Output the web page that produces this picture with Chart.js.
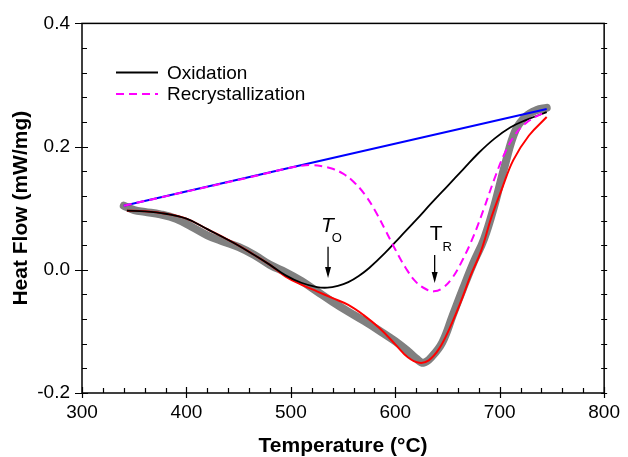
<!DOCTYPE html>
<html><head><meta charset="utf-8">
<script src="https://cdn.jsdelivr.net/npm/chart.js@4.4.1/dist/chart.umd.min.js"></script>
<style>html,body{margin:0;padding:0;background:#fff;}#wrap{width:628px;height:457px;}</style>
</head><body><div id="wrap"><canvas id="c" width="628" height="457"></canvas></div>
<script>
// ---- data ----
const baselineX = [340, 745];
const baselineY = [0.104, 0.261];

const oxidationX = [343, 360, 380, 400, 420, 445, 465, 480, 495, 510, 525, 535, 545, 555, 565, 575, 590, 605, 620, 635, 650, 665, 680, 695, 710, 725, 745];
const oxidationY = [0.096, 0.095, 0.091, 0.083, 0.066, 0.044, 0.024, 0.008, -0.009, -0.021, -0.028, -0.029, -0.026, -0.020, -0.010, 0.003, 0.027, 0.054, 0.081, 0.109, 0.136, 0.163, 0.190, 0.213, 0.231, 0.243, 0.256];

const recrystX = [340, 400, 460, 500, 510, 520, 530, 540, 550, 560, 570, 580, 590, 600, 610, 620, 630, 637, 645, 655, 665, 675, 685, 695, 705, 715, 725, 735, 745];
const recrystY = [0.104, 0.127, 0.150, 0.166, 0.169, 0.170, 0.168, 0.164, 0.156, 0.143, 0.124, 0.098, 0.066, 0.033, 0.003, -0.020, -0.032, -0.035, -0.030, -0.012, 0.018, 0.055, 0.100, 0.148, 0.190, 0.220, 0.238, 0.249, 0.257];

const fitX = [343, 360, 380, 400, 420, 445, 465, 480, 495, 510, 525, 540, 555, 570, 585, 600, 612, 623, 632, 642, 652, 662, 672, 682, 692, 702, 713, 728, 745];
const fitY = [0.096, 0.095, 0.091, 0.083, 0.066, 0.044, 0.024, 0.008, -0.011, -0.024, -0.035, -0.046, -0.057, -0.074, -0.095, -0.121, -0.142, -0.151, -0.147, -0.128, -0.095, -0.055, -0.010, 0.030, 0.085, 0.131, 0.178, 0.218, 0.248];

const measuredX = [340, 350, 360, 375, 390, 405, 420, 435, 450, 465, 480, 495, 510, 525, 540, 555, 570, 585, 600, 612, 620, 627, 635, 645, 655, 665, 675, 685, 695, 705, 715, 725, 735, 745];
const measuredY = [0.104, 0.097, 0.094, 0.090, 0.083, 0.070, 0.056, 0.046, 0.037, 0.024, 0.008, -0.004, -0.018, -0.035, -0.052, -0.068, -0.083, -0.099, -0.116, -0.132, -0.144, -0.151, -0.141, -0.118, -0.074, -0.030, 0.012, 0.050, 0.105, 0.170, 0.226, 0.249, 0.259, 0.263];

const xTickValues = [300, 400, 500, 600, 700, 800];
const yTickValues = [-0.2, 0.0, 0.2, 0.4];
const legendLabels = ['Oxidation', 'Recrystallization'];

// annotation markers (data coords)
const markerNames = [['T', 'O'], ['T', 'R']];
const markerX = [535.6, 637.7];
const markerTopY = [0.0375, 0.024];
const markerTipY = [-0.0135, -0.0216];

function pts(xs, ys) { return xs.map((v, i) => ({x: v, y: ys[i]})); }

const FONT = '"Liberation Sans", Arial, sans-serif';

const decor = {
  id: 'decor',
  afterDraw(chart) {
    const {ctx, chartArea: a, scales: {x, y}} = chart;
    ctx.save();
    ctx.strokeStyle = '#000';
    ctx.lineWidth = 1.5;
    ctx.strokeRect(a.left, a.top, a.right - a.left, a.bottom - a.top);
    ctx.lineWidth = 1.2;
    ctx.beginPath();
    for (let k = 0; k <= 25; k++) {
      const v = 300 + k * 20, px = Math.round(x.getPixelForValue(v)) + 0.5;
      const major = k % 5 === 0;
      ctx.moveTo(px, a.bottom + (major ? 5 : 0));
      ctx.lineTo(px, a.bottom - (major ? 6 : 5));
    }
    for (let k = -5; k <= 10; k++) {
      const v = k * 0.04, py = Math.round(y.getPixelForValue(v)) + 0.5;
      const major = k % 5 === 0;
      ctx.moveTo(a.left - (major ? 7 : 0), py);
      ctx.lineTo(a.left + (major ? 6 : 5), py);
      ctx.moveTo(a.right - 3, py);
      ctx.lineTo(a.right + 3, py);
    }
    ctx.stroke();

    const lx0 = 116, lx1 = 158, tx = 167, rows = [72.5, 94];
    ctx.font = '19px ' + FONT;
    ctx.textBaseline = 'middle';
    ctx.fillStyle = '#000';
    const styles = [{c: '#000000', d: []}, {c: '#ff00ff', d: [8, 5]}];
    legendLabels.forEach((t, i) => {
      ctx.beginPath();
      ctx.setLineDash(styles[i].d);
      ctx.strokeStyle = styles[i].c;
      ctx.lineWidth = 2;
      ctx.moveTo(lx0, rows[i]); ctx.lineTo(lx1, rows[i]);
      ctx.stroke();
      ctx.setLineDash([]);
      ctx.fillText(t, tx, rows[i] + 1);
    });

    ctx.strokeStyle = '#000';
    ctx.fillStyle = '#000';
    ctx.textBaseline = 'alphabetic';
    markerNames.forEach((nm, i) => {
      const px = x.getPixelForValue(markerX[i]);
      const top = y.getPixelForValue(markerTopY[i]);
      const tip = y.getPixelForValue(markerTipY[i]);
      ctx.lineWidth = 1.3;
      ctx.beginPath();
      ctx.moveTo(px, top); ctx.lineTo(px, tip - 8);
      ctx.stroke();
      ctx.beginPath();
      ctx.moveTo(px - 3, tip - 11); ctx.lineTo(px + 3, tip - 11); ctx.lineTo(px, tip); ctx.closePath();
      ctx.fill();
      const italic = i === 0;
      ctx.font = (italic ? 'italic ' : '') + '21px ' + FONT;
      const base = top - 15;
      const tLeft = px - (italic ? 7 : 5);
      ctx.fillText(nm[0], tLeft, base);
      const tw = ctx.measureText(nm[0]).width;
      ctx.font = '13px ' + FONT;
      ctx.fillText(nm[1], tLeft + tw - (italic ? 2 : 0), base + (italic ? 10 : 11));
    });
    ctx.restore();
  }
};

new Chart(document.getElementById('c'), {
  type: 'scatter',
  data: {
    datasets: [
      {label: legendLabels[1], data: pts(recrystX, recrystY), showLine: true, borderColor: '#ff00ff', borderWidth: 2, borderDash: [8, 5], pointRadius: 0, tension: 0.4},
      {label: 'Baseline', data: pts(baselineX, baselineY), showLine: true, borderColor: '#0000ff', borderWidth: 2, pointRadius: 0},
      {label: legendLabels[0], data: pts(oxidationX, oxidationY), showLine: true, borderColor: '#000000', borderWidth: 1.8, pointRadius: 0, tension: 0.4},
      {label: 'Fit', data: pts(fitX, fitY), showLine: true, borderColor: '#ff0000', borderWidth: 2, pointRadius: 0, tension: 0.4},
      {label: 'Measured', data: pts(measuredX, measuredY), showLine: true, borderColor: '#808080', borderWidth: 8, borderCapStyle: 'round', borderJoinStyle: 'round', pointRadius: 0, tension: 0.4}
    ]
  },
  options: {
    responsive: false,
    animation: false,
    devicePixelRatio: 1,
    layout: {padding: {top: 20, right: 16, left: 0, bottom: 0}},
    plugins: {legend: {display: false}, tooltip: {enabled: false}},
    scales: {
      x: {
        type: 'linear', min: 300, max: 800,
        afterBuildTicks: s => { s.ticks = xTickValues.map(v => ({value: v})); },
        ticks: {color: '#000', font: {family: FONT, size: 19}, padding: 8, maxRotation: 0, autoSkip: false, callback: v => String(v)},
        grid: {display: false, drawTicks: false},
        border: {display: false},
        title: {display: true, text: 'Temperature (°C)', color: '#000', font: {family: FONT, size: 21, weight: 'bold', lineHeight: 1}, padding: {top: 0, bottom: 0}},
        afterFit: s => { s.height = 64; }
      },
      y: {
        type: 'linear', min: -0.2, max: 0.4,
        afterBuildTicks: s => { s.ticks = yTickValues.map(v => ({value: v})); },
        ticks: {color: '#000', font: {family: FONT, size: 19}, padding: 12, autoSkip: false, callback: v => Number(v).toFixed(1)},
        grid: {display: false, drawTicks: false},
        border: {display: false},
        title: {display: true, text: 'Heat Flow (mW/mg)', color: '#000', font: {family: FONT, size: 21, weight: 'bold', lineHeight: 1}, padding: {top: 11, bottom: 0}},
        afterFit: s => { s.width = 82; }
      }
    }
  },
  plugins: [decor]
});
</script>
</body></html>
